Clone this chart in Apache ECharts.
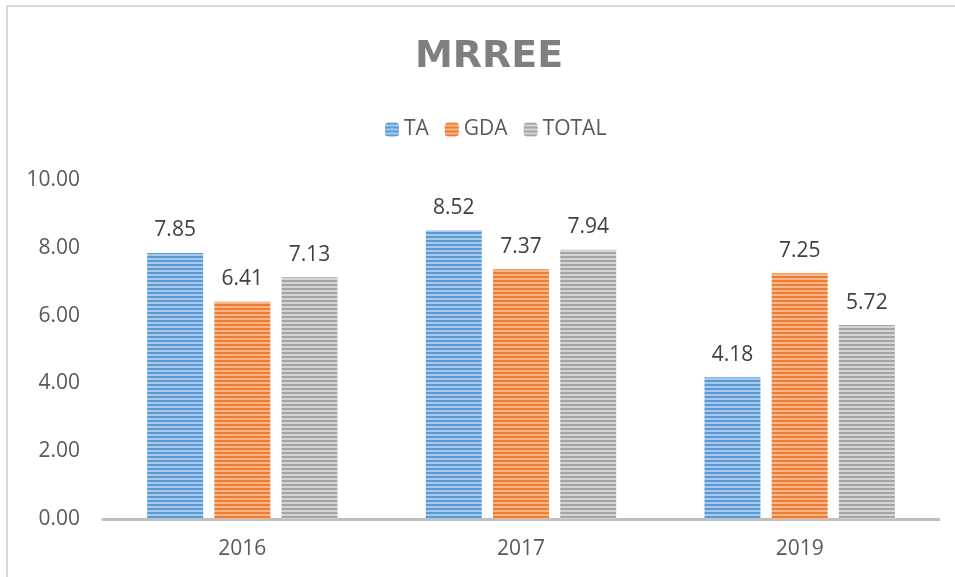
<!DOCTYPE html>
<html>
<head>
<meta charset="utf-8">
<script src="https://cdn.jsdelivr.net/npm/echarts@6/dist/echarts.min.js"></script>
<style>
  html, body { margin: 0; padding: 0; background: #fff; }
  #main { width: 955px; height: 577px; }
</style>
</head>
<body>
<div id="main"></div>
<script>
// data
var years = ["2016", "2017", "2019"];
var taValues = [7.85, 8.52, 4.18];
var gdaValues = [6.41, 7.37, 7.25];
var totalValues = [7.13, 7.94, 5.72];
var yTicks = [0, 2, 4, 6, 8, 10];

// horizontal stripe fill, like the Excel pattern
function stripes(dark, light) {
  var c = document.createElement("canvas");
  c.width = 4;
  c.height = 4;
  var ctx = c.getContext("2d");
  ctx.fillStyle = light;
  ctx.fillRect(0, 0, 4, 4);
  ctx.fillStyle = dark;
  ctx.fillRect(0, 0, 4, 2);
  return { image: c, repeat: "repeat" };
}

var font = "Open Sans";
var chart = echarts.init(document.getElementById("main"));

var labelStyle = {
  show: true,
  position: "top",
  distance: 12,
  color: "#404040",
  fontSize: 21,
  fontFamily: font,
  formatter: function (p) { return p.value.toFixed(2); }
};

var option = {
  backgroundColor: "#fff",
  animation: false,
  title: {
    text: "MRREE",
    left: 410,
    top: 33,
    textStyle: {
      color: "#7f7f7f",
      fontSize: 38,
      fontWeight: "bold",
      fontFamily: "DejaVu Sans"
    }
  },
  legend: {
    top: 114,
    left: 380,
    itemWidth: 14,
    itemHeight: 14,
    itemGap: 16,
    textStyle: { color: "#595959", fontSize: 21, fontFamily: font },
    data: ["TA", "GDA", "TOTAL"]
  },
  grid: { left: 103, right: 16, top: 180, bottom: 58 },
  xAxis: {
    type: "category",
    data: years,
    axisLine: { lineStyle: { color: "#bfbfbf", width: 3 } },
    axisTick: { show: false },
    axisLabel: { color: "#595959", fontSize: 21, fontFamily: font, margin: 20 }
  },
  yAxis: {
    type: "value",
    min: yTicks[0],
    max: yTicks[yTicks.length - 1],
    interval: 2,
    splitLine: { show: false },
    axisLine: { show: false },
    axisTick: { show: false },
    axisLabel: {
      color: "#595959",
      fontSize: 21,
      fontFamily: font,
      margin: 23,
      formatter: function (v) { return v.toFixed(2); }
    }
  },
  series: [
    {
      name: "TA",
      type: "bar",
      data: taValues,
      barWidth: 56,
      barGap: "20%",
      itemStyle: { color: stripes("#5b9bd5", "#a9c9ec") },
      label: labelStyle
    },
    {
      name: "GDA",
      type: "bar",
      data: gdaValues,
      barWidth: 56,
      barGap: "20%",
      itemStyle: { color: stripes("#ed7d31", "#f6b58c") },
      label: labelStyle
    },
    {
      name: "TOTAL",
      type: "bar",
      data: totalValues,
      barWidth: 56,
      barGap: "20%",
      itemStyle: { color: stripes("#a5a5a5", "#d4d4d4") },
      label: labelStyle
    }
  ],
  graphic: [
    {
      type: "polyline",
      shape: { points: [[7, 577], [7, 6], [955, 6]] },
      style: { stroke: "#d9d9d9", lineWidth: 2, fill: null }
    }
  ]
};

chart.setOption(option);
</script>
</body>
</html>
